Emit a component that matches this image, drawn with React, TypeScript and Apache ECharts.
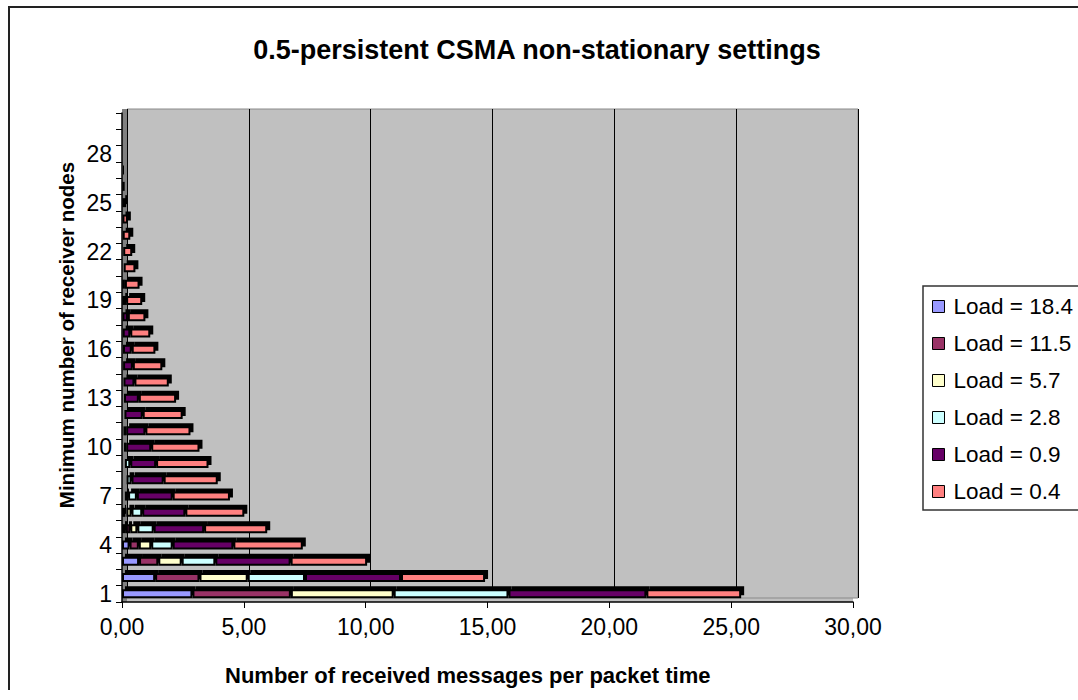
import React, { useEffect, useRef } from "react";
import * as echarts from "echarts";

const categories = Array.from({ length: 30 }, (_, i) => String(i + 1));

const seriesNames = ["Load = 18.4", "Load = 11.5", "Load = 5.7", "Load = 2.8", "Load = 0.9", "Load = 0.4"];
const seriesColors = ["#9999FF", "#993366", "#FFFFCC", "#CCFFFF", "#660066", "#FF8080"];

const load184 = [2.89, 1.36, 0.7, 0.31, 0.16, 0.14, 0.06, 0.05, 0.03, 0.02, 0.01, 0.01, 0.005, 0, 0, 0, 0, 0, 0, 0, 0, 0, 0, 0, 0, 0, 0, 0, 0, 0];
const load115 = [4.04, 1.82, 0.79, 0.38, 0.18, 0.04, 0.06, 0.06, 0.04, 0.03, 0.02, 0.01, 0.01, 0.01, 0.005, 0, 0, 0, 0, 0, 0, 0, 0, 0, 0, 0, 0, 0, 0, 0];
const load57 = [4.22, 1.98, 0.96, 0.51, 0.29, 0.21, 0.13, 0.08, 0.05, 0.03, 0.03, 0.02, 0.015, 0.01, 0.01, 0.01, 0.01, 0, 0, 0, 0, 0, 0, 0, 0, 0, 0, 0, 0, 0];
const load28 = [4.71, 2.35, 1.38, 0.88, 0.67, 0.44, 0.36, 0.2, 0.22, 0.09, 0.11, 0.06, 0.05, 0.04, 0.03, 0.03, 0.02, 0.02, 0.01, 0.01, 0, 0, 0, 0, 0, 0, 0, 0, 0, 0];
const load09 = [5.66, 3.94, 3.09, 2.49, 2.07, 1.77, 1.47, 1.32, 1.06, 1.03, 0.79, 0.75, 0.61, 0.45, 0.4, 0.36, 0.31, 0.22, 0.16, 0.11, 0.07, 0.05, 0.03, 0.02, 0.01, 0.01, 0.01, 0.01, 0, 0];
const load04 = [3.89, 3.45, 3.14, 2.85, 2.59, 2.42, 2.35, 2.22, 2.15, 1.98, 1.85, 1.64, 1.53, 1.41, 1.21, 0.97, 0.82, 0.72, 0.66, 0.6, 0.48, 0.37, 0.31, 0.22, 0.16, 0.1, 0.09, 0.08, 0.08, 0.07];

const seriesData = [load184, load115, load57, load28, load09, load04];

const xTicks = { min: 0, max: 30, interval: 5 };

const FONT = "'Liberation Sans', Arial, sans-serif";

const hiddenAxis = {
  axisLine: { show: false },
  axisTick: { show: false },
  axisLabel: { show: false },
  splitLine: { show: false },
};

export default function App() {
  const ref = useRef<HTMLDivElement>(null);
  useEffect(() => {
    if (!ref.current) return;
    const chart = echarts.init(ref.current, null, { renderer: "svg" });
    chart.setOption({
      animation: false,
      backgroundColor: "#ffffff",
      textStyle: { fontFamily: FONT, color: "#000" },
      title: {
        text: "0.5-persistent CSMA non-stationary settings",
        left: 527,
        top: 28,
        padding: 0,
        textAlign: "center",
        textStyle: { fontFamily: FONT, fontSize: 27, fontWeight: "bold", color: "#000" },
      },
      graphic: [
        {
          type: "text",
          x: 56,
          y: 327,
          rotation: Math.PI / 2,
          style: {
            text: "Minimum number of receiver nodes",
            font: `bold 20.5px ${FONT}`,
            fill: "#000",
            align: "center",
            verticalAlign: "middle",
          },
        },
        {
          type: "text",
          x: 215,
          y: 667,
          style: {
            text: "Number of received messages per packet time",
            font: `bold 22px ${FONT}`,
            fill: "#000",
            align: "left",
            verticalAlign: "middle",
          },
        },
      ],
      legend: {
        orient: "vertical",
        left: 913,
        top: 278,
        padding: [9, 40, 7, 9],
        itemGap: 14,
        itemWidth: 12,
        itemHeight: 12,
        borderColor: "#333",
        borderWidth: 1.5,
        icon: "rect",
        itemStyle: { borderColor: "#000", borderWidth: 1, shadowBlur: 0, shadowOffsetX: 0, shadowOffsetY: 0, shadowColor: "rgba(0,0,0,0)" },
        textStyle: { fontFamily: FONT, fontSize: 22.5, lineHeight: 22.5, color: "#000", padding: [0, 0, 0, 4] },
        data: seriesNames,
      },
      grid: [
        {
          left: 112,
          right: 225,
          top: 105,
          bottom: 88,
          show: true,
          backgroundColor: "#C0C0C0",
          borderWidth: 0,
          containLabel: false,
          outerBoundsMode: "none",
        },
        {
          left: 117,
          right: 220,
          top: 101,
          bottom: 92,
          show: true,
          backgroundColor: "#C0C0C0",
          borderColor: "#8a8a8a",
          borderWidth: 1,
          containLabel: false,
          outerBoundsMode: "none",
        },
        {
          left: 112,
          width: 5,
          top: 101,
          bottom: 88,
          show: true,
          backgroundColor: "#808080",
          borderWidth: 0,
          containLabel: false,
          outerBoundsMode: "none",
        },
      ],
      xAxis: [
        {
          type: "value",
          gridIndex: 0,
          min: xTicks.min,
          max: xTicks.max,
          interval: xTicks.interval,
          axisLine: { show: true, lineStyle: { color: "#000", width: 1.5 } },
          axisTick: { show: true, length: 6, lineStyle: { color: "#000" } },
          axisLabel: {
            fontFamily: FONT,
            fontSize: 23,
            color: "#000",
            margin: 13,
            formatter: (v: number) => v.toFixed(2).replace(".", ","),
          },
          splitLine: { show: false },
          z: 3,
        },
        {
          type: "value",
          gridIndex: 1,
          min: xTicks.min,
          max: xTicks.max,
          interval: xTicks.interval,
          axisLine: { show: false },
          axisTick: { show: false },
          axisLabel: { show: false },
          splitLine: { show: true, lineStyle: { color: "#000", width: 1 } },
        },
        { type: "value", gridIndex: 2, min: 0, max: 1, ...hiddenAxis },
      ],
      yAxis: [
        {
          type: "category",
          gridIndex: 0,
          data: categories,
          axisLine: { show: true, lineStyle: { color: "#000", width: 1.5 } },
          axisTick: { show: true, length: 6, interval: 0, lineStyle: { color: "#000" } },
          axisLabel: { fontFamily: FONT, fontSize: 23, color: "#000", margin: 10, interval: 2 },
          splitLine: { show: false },
          z: 3,
        },
        { type: "category", gridIndex: 1, data: categories, ...hiddenAxis },
        { type: "category", gridIndex: 2, data: categories, ...hiddenAxis },
      ],
      series: seriesNames.map((name, i) => ({
        name,
        type: "bar",
        stack: "total",
        xAxisIndex: 0,
        yAxisIndex: 0,
        barWidth: 9,
        z: 5,
        data: seriesData[i],
        itemStyle: {
          color: seriesColors[i],
          borderColor: "#000",
          borderWidth: 2,
          shadowColor: "#000",
          shadowBlur: 0,
          shadowOffsetX: 3,
          shadowOffsetY: -3,
        },
        emphasis: { disabled: true },
      })),
    });
    return () => chart.dispose();
  }, []);
  return (
    <div
      style={{
        position: "absolute",
        left: 8,
        top: 6,
        width: 1070,
        height: 684,
        boxSizing: "border-box",
        borderLeft: "2px solid #222",
        borderTop: "2px solid #222",
      }}
    >
      <div ref={ref} style={{ width: 1068, height: 682 }} />
    </div>
  );
}
